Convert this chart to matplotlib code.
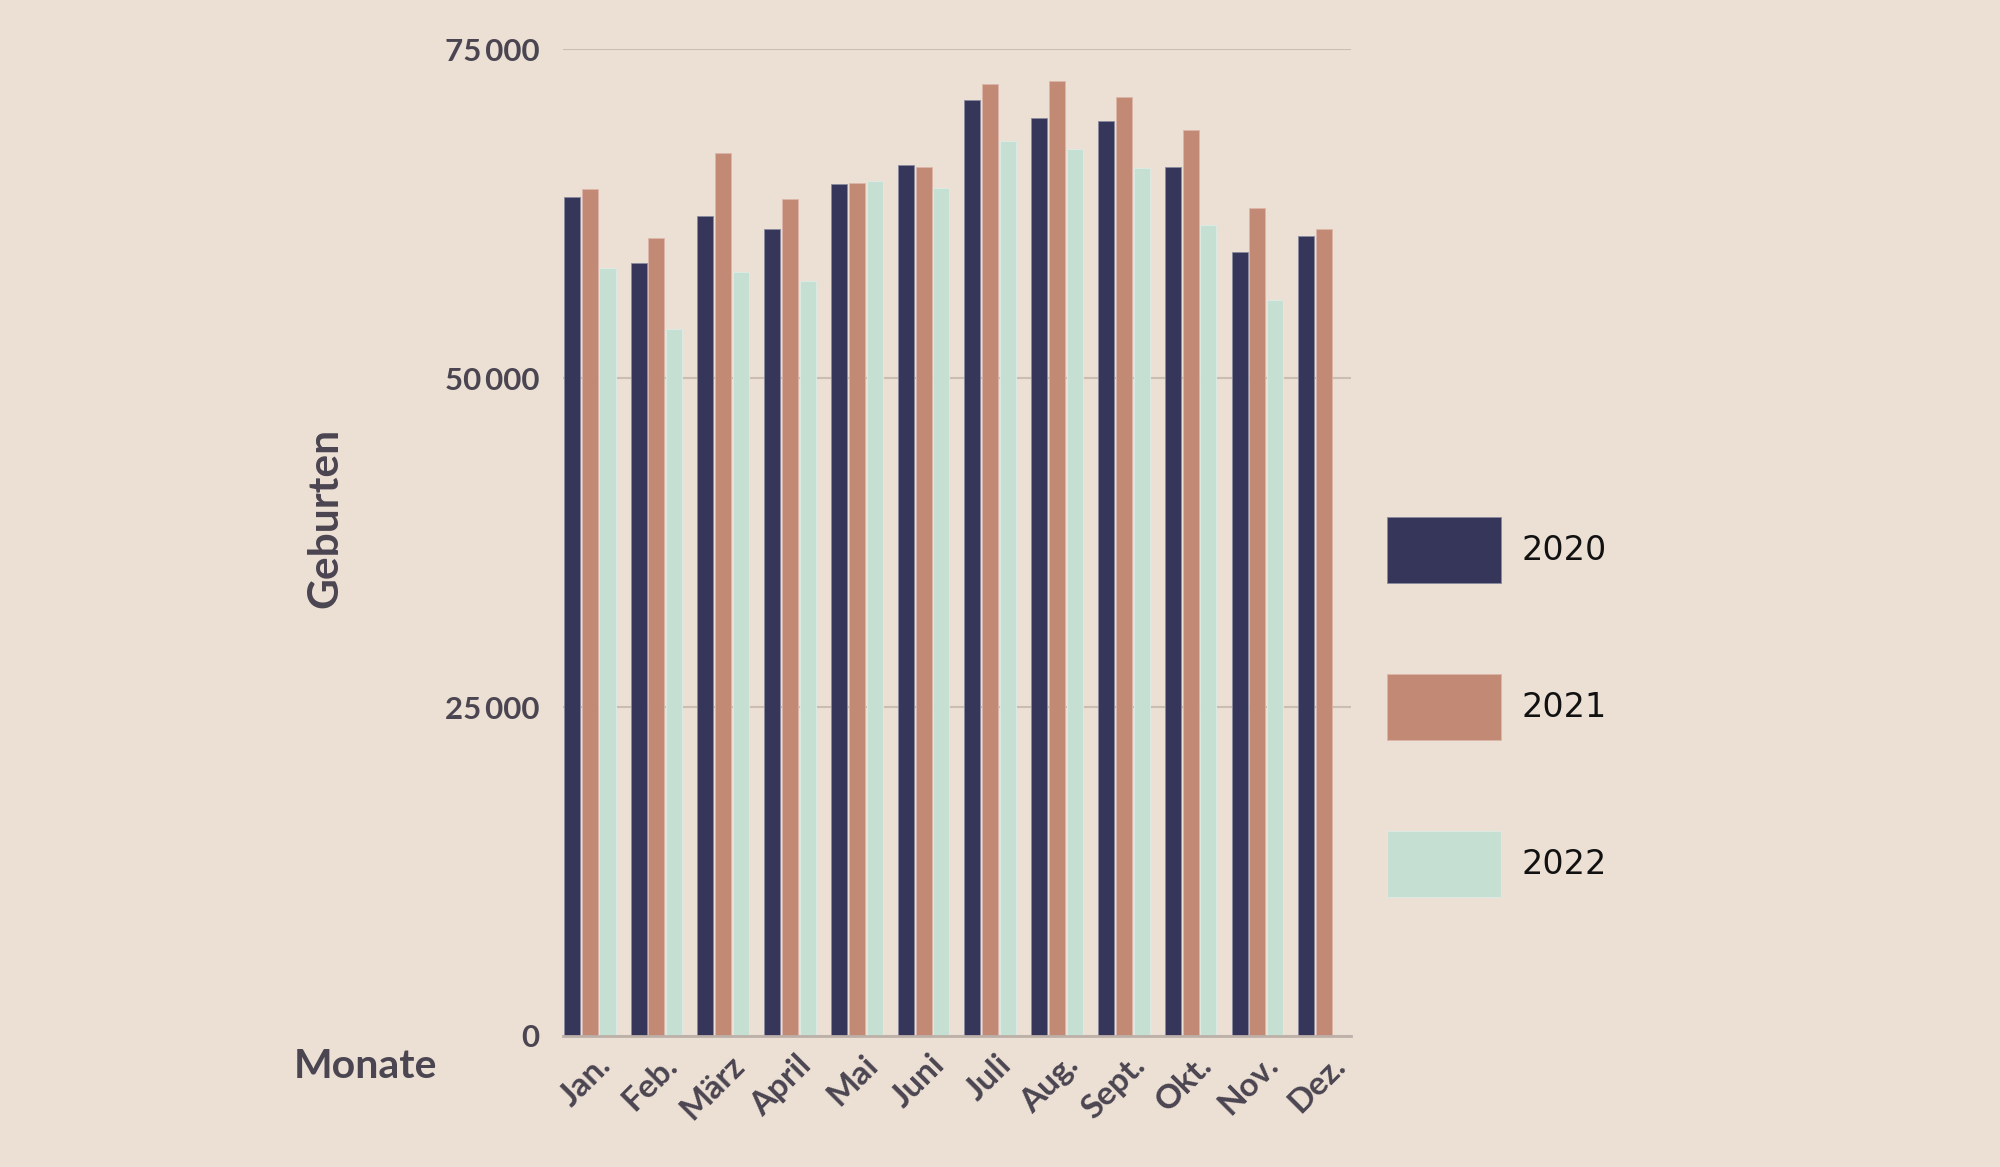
import numpy as np
import matplotlib
matplotlib.use("Agg")
import matplotlib.pyplot as plt
from matplotlib.ticker import FixedLocator, FuncFormatter
from matplotlib.transforms import ScaledTranslation

months = ["Jan.", "Feb.", "März", "April", "Mai", "Juni", "Juli", "Aug.", "Sept.", "Okt.", "Nov.", "Dez."]
years = ["2020", "2021", "2022"]
births_2020 = [63770, 58750, 62290, 61310, 64750, 66170, 71110, 69750, 69520, 66070, 59560, 60770]
births_2021 = [64370, 60650, 67110, 63640, 64800, 66040, 72330, 72590, 71390, 68880, 62930, 61360]
births_2022 = [58390, 53700, 58090, 57400, 64960, 64470, 68050, 67440, 65990, 61660, 55930, np.nan]
y_ticks = [0, 25000, 50000, 75000]

colors = ["#35365a", "#c28a74", "#c5dfd3"]
edge_colors = ["#8a8aa0", "#dcb6a8", "#dcece5"]
bg = "#ece0d5"
text_col = "#4a4550"

fig = plt.figure(figsize=(20, 11.67), dpi=100, facecolor=bg)
ax = fig.add_axes([0.2815, 0.1123, 0.3939, 0.8455])
ax.set_facecolor(bg)

x = np.arange(len(months))
slot = 0.8 / 3
series = [births_2020, births_2021, births_2022]
handles = []
for i, (vals, c, ec, lab) in enumerate(zip(series, colors, edge_colors, years)):
    b = ax.bar(x + (i - 1) * slot, vals, width=slot * 0.9, color=c,
               edgecolor=ec, linewidth=0.6, label=lab, zorder=3)
    handles.append(b)

ax.set_xlim(-0.4, len(months) - 1 + 0.4)
ax.set_ylim(0, 75000)

ax.yaxis.set_major_locator(FixedLocator(y_ticks))
def fmt(v, pos):
    v = int(round(v))
    if v == 0:
        return "0"
    return f"{v // 1000}\u2009{v % 1000:03d}"
ax.yaxis.set_major_formatter(FuncFormatter(fmt))
ax.grid(axis="y", color="#cbbdb2", linewidth=1.5, zorder=0)
ax.set_axisbelow(True)

for s in ["top", "right", "left"]:
    ax.spines[s].set_visible(False)
ax.spines["bottom"].set_color("#bcb0a8")
ax.spines["bottom"].set_linewidth(2)
ax.spines["bottom"].set_zorder(4)

ax.tick_params(axis="y", length=0, pad=17, labelsize=22.5, labelcolor=text_col)
ax.tick_params(axis="x", length=0, pad=10, labelsize=24, labelcolor=text_col)
for lab in ax.get_yticklabels():
    lab.set_fontfamily(["Lato", "DejaVu Sans"])
    lab.set_fontweight("bold")

ax.set_xticks(x)
ax.set_xticklabels(months, rotation=45, ha="right", va="top", rotation_mode="anchor",
                   fontfamily=["Lato", "DejaVu Sans"], fontweight="bold")
shift = ScaledTranslation(0.06, 0, fig.dpi_scale_trans)
for lab in ax.get_xticklabels():
    lab.set_transform(lab.get_transform() + shift)

fig.text(325 / 2000, 1 - 517.5 / 1167, "Geburten", rotation=90, ha="center", va="center",
         fontsize=30.5, fontweight="bold", color=text_col, family=["Lato", "DejaVu Sans"])
fig.text(365.5 / 2000, 1 - 1066 / 1167, "Monate", ha="center", va="center",
         fontsize=29.5, fontweight="bold", color=text_col, family=["Lato", "DejaVu Sans"])

leg = fig.legend(handles=handles, labels=years, loc="upper left",
                 bbox_to_anchor=(1386.7 / 2000, 1 - 517.3 / 1167),
                 frameon=False, borderpad=0, borderaxespad=0,
                 handlelength=3.42, handleheight=2.67, labelspacing=2.73,
                 handletextpad=0.62, prop={"family": "DejaVu Sans", "size": 24})
for t in leg.get_texts():
    t.set_color("#111111")

fig.savefig("out.png", dpi=100, facecolor=bg)
